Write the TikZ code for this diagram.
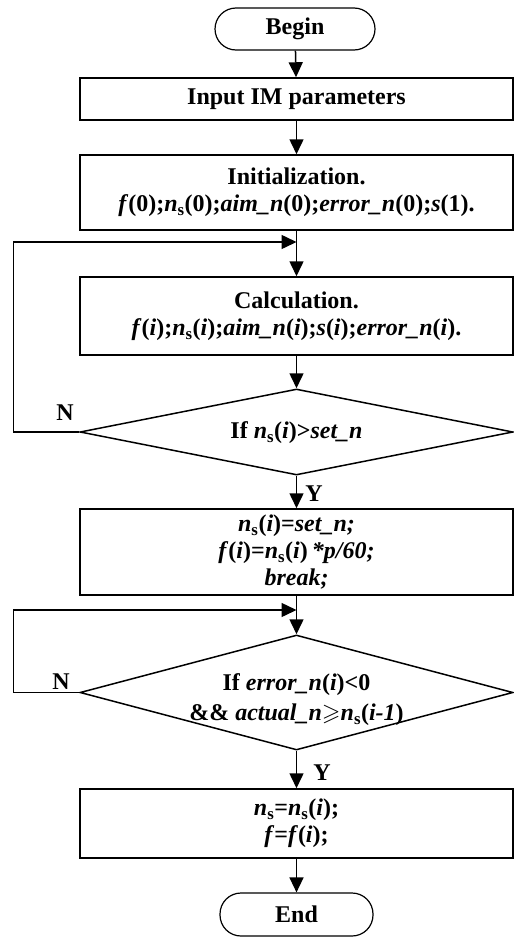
\documentclass[tikz,border=0pt]{standalone}
\usepackage{fontspec}
\usepackage{amssymb}
\setmainfont{Liberation Serif}
\usetikzlibrary{arrows.meta,shapes.geometric}
\newcommand{\nsx}{\textit{n}\textsubscript{s}}
\tikzset{
  every node/.style={font=\bfseries\fontsize{24}{27}\selectfont},
  box/.style={draw,line width=1.5pt,minimum width=433pt,inner sep=0pt,align=center},
  term/.style={draw,line width=1.2pt,rounded corners=21pt,inner sep=0pt},
  dia/.style={draw,diamond,line width=1.5pt,inner sep=0pt,minimum width=433pt},
  lbl/.style={inner sep=0pt,align=center},
  arr/.style={line width=1.5pt,-{Triangle[length=15pt,width=14pt]}},
  ln/.style={line width=1.5pt}
}
\begin{document}
\begin{tikzpicture}[x=1pt,y=-1pt]
\useasboundingbox (0,0) rectangle (514,937);
\node[term,minimum width=160pt,minimum height=42pt] (begin) at (295,29) {Begin};
\node[box,minimum height=42pt] (input) at (296.5,99) {Input IM parameters};
\node[box,minimum height=75pt] (init) at (296.5,192.5) {Initialization.\\ \textit{f}(0);\nsx(0);\textit{aim\_n}(0);\textit{error\_n}(0);\textit{s}(1).};
\coordinate (j1) at (296.5,242);
\node[box,minimum height=78pt] (calc) at (296.5,316) {Calculation.\\ \textit{f}(\textit{i});\nsx(\textit{i});\textit{aim\_n}(\textit{i});\textit{s}(\textit{i});\textit{error\_n}(\textit{i}).};
\node[dia,minimum height=86pt] (d1) at (296.5,432) {};
\node[lbl] (t1) at (296.5,433) {If \nsx(\textit{i})>\textit{set\_n}};
\node[box,minimum height=86pt] (b3) at (296.5,552) {\nsx(\textit{i})=\textit{set\_n;}\\ \textit{f}(\textit{i})=\nsx(\textit{i})\,\textit{*p/60;}\\ \textit{break;}};
\coordinate (j2) at (296.5,610);
\node[dia,minimum height=115pt] (d2) at (296.5,692.5) {};
\node[lbl,font=\bfseries\fontsize{24}{30}\selectfont] (t2) at (296.5,700) {If \textit{error\_n}(\textit{i})<0\\ \&\& \textit{actual\_n}$\geqslant$\nsx(\textit{i-1})};
\node[box,minimum height=69pt] (b4) at (296.5,823.5) {\nsx=\nsx(\textit{i});\\ \textit{f}=\textit{f}(\textit{i});};
\node[term,minimum width=153pt,minimum height=43pt] (end) at (296.5,914.5) {End};
\node[lbl] (n1) at (65,413) {N};
\node[lbl] (y1) at (314,494) {Y};
\node[lbl] (n2) at (61,682) {N};
\node[lbl] (y2) at (322,773) {Y};
\draw[arr] (begin) -- (input);
\draw[arr] (input) -- (init);
\draw[ln] (init) -- (j1);
\draw[arr] (j1) -- (calc);
\draw[arr] (calc) -- (d1);
\draw[arr] (d1.west) -- ++(-66,0) |- (j1);
\draw[arr] (d1) -- (b3);
\draw[ln] (b3) -- (j2);
\draw[arr] (j2) -- (d2);
\draw[arr] (d2.west) -- ++(-66,0) |- (j2);
\draw[arr] (d2) -- (b4);
\draw[arr] (b4) -- (end);
\end{tikzpicture}
\end{document}
